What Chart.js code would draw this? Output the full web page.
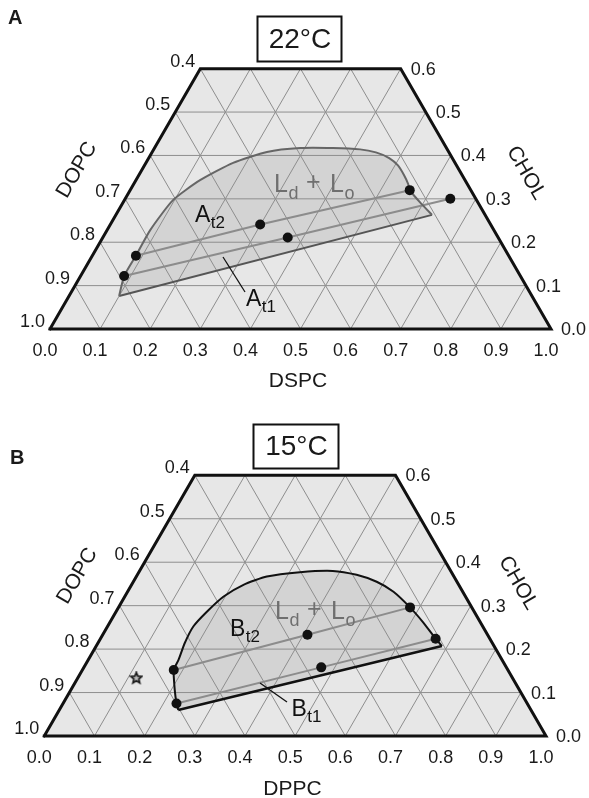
<!DOCTYPE html>
<html><head><meta charset="utf-8">
<script src="https://cdn.jsdelivr.net/npm/chart.js@4/dist/chart.umd.min.js"></script>
<style>
html,body{margin:0;padding:0;background:#fff;}
#wrap{position:relative;width:589px;height:798px;}
canvas{position:absolute;left:0;}
</style></head><body>
<div id="wrap">
<canvas id="cA" width="589" height="400" style="top:0px"></canvas>
<canvas id="cB" width="589" height="398" style="top:400px"></canvas>
</div>
<script>
// ===================== DATA =====================
// grid steps (mole fraction)
const gridSteps = [0.1, 0.2, 0.3, 0.4, 0.5, 0.6, 0.7, 0.8, 0.9];
const cholMax = 0.6;
// bottom axis (saturated PC) ticks
const bottomTickValues = [0.0, 0.1, 0.2, 0.3, 0.4, 0.5, 0.6, 0.7, 0.8, 0.9, 1.0];
const bottomTickLabels = ['0.0', '0.1', '0.2', '0.3', '0.4', '0.5', '0.6', '0.7', '0.8', '0.9', '1.0'];
// left axis (DOPC) ticks, placed at CHOL level where DOPC = label on the left edge
const leftTickChol = [0.6, 0.5, 0.4, 0.3, 0.2, 0.1, 0.0];
const leftTickLabels = ['0.4', '0.5', '0.6', '0.7', '0.8', '0.9', '1.0'];
// right axis (CHOL) ticks
const rightTickChol = [0.0, 0.1, 0.2, 0.3, 0.4, 0.5, 0.6];
const rightTickLabels = ['0.0', '0.1', '0.2', '0.3', '0.4', '0.5', '0.6'];

// ---- Panel A: DSPC / DOPC / CHOL at 22 °C (values: DSPC fraction, CHOL fraction) ----
const boundaryA_dspc = [0.100, 0.087, 0.087, 0.086, 0.097, 0.128, 0.174, 0.229, 0.291, 0.356, 0.412, 0.447, 0.480, 0.506, 0.529, 0.548, 0.558, 0.595, 0.631];
const boundaryA_chol = [0.076, 0.122, 0.169, 0.228, 0.297, 0.343, 0.383, 0.408, 0.417, 0.417, 0.414, 0.407, 0.394, 0.377, 0.355, 0.334, 0.320, 0.290, 0.263];
const tieA2_dspc = [0.087, 0.299, 0.558];
const tieA2_chol = [0.169, 0.241, 0.320];
const tieA1_dspc = [0.087, 0.369, 0.649];
const tieA1_chol = [0.122, 0.211, 0.300];

// ---- Panel B: DPPC / DOPC / CHOL at 15 °C ----
const boundaryB_dppc = [0.237, 0.226, 0.207, 0.182, 0.180, 0.173, 0.171, 0.181, 0.197, 0.223, 0.260, 0.321, 0.385, 0.437, 0.485, 0.530, 0.581, 0.625, 0.668, 0.689];
const boundaryB_chol = [0.060, 0.075, 0.106, 0.152, 0.175, 0.214, 0.252, 0.286, 0.321, 0.348, 0.367, 0.377, 0.380, 0.371, 0.355, 0.332, 0.296, 0.261, 0.224, 0.207];
const tieB2_dppc = [0.182, 0.408, 0.581];
const tieB2_chol = [0.152, 0.233, 0.296];
const tieB1_dppc = [0.226, 0.473, 0.668];
const tieB1_chol = [0.075, 0.158, 0.224];
const starB_dppc = [0.117];
const starB_chol = [0.133];

// ===================== HELPERS =====================
const S3 = Math.sqrt(3) / 2;
function tern(sat, chol) { return { x: sat + chol / 2, y: chol * S3 }; }
function pts(sats, chols) { return sats.map((s, i) => tern(s, chols[i])); }
const FONT = '"Liberation Sans", Arial, Helvetica, sans-serif';

function starCanvas() {
  const c = document.createElement('canvas');
  c.width = 14; c.height = 14;
  const g = c.getContext('2d');
  g.beginPath();
  for (let i = 0; i < 10; i++) {
    const r = i % 2 === 0 ? 5.8 : 2.6;
    const a = -Math.PI / 2 + i * Math.PI / 5;
    const x = 7 + r * Math.cos(a), y = 7 + r * Math.sin(a);
    if (i === 0) g.moveTo(x, y); else g.lineTo(x, y);
  }
  g.closePath();
  g.fillStyle = '#bdbdbd';
  g.fill();
  g.lineWidth = 1.7;
  g.strokeStyle = '#1a1a1a';
  g.stroke();
  return c;
}

function lineDS(data, color, width, order, extra) {
  return Object.assign({
    data: data, showLine: true, fill: false, borderColor: color, borderWidth: width,
    pointRadius: 0, pointHoverRadius: 0, order: order, tension: 0, clip: false
  }, extra || {});
}

function buildPanel(cfg) {
  const ds = [];
  // background trapezoid
  const trap = [tern(0, 0), tern(1, 0), tern(1 - cholMax, cholMax), tern(0, cholMax), tern(0, 0)];
  ds.push(lineDS(trap, 'rgba(0,0,0,0)', 0, 100, { fill: 'shape', backgroundColor: '#e7e7e7' }));
  // two-phase region fill
  const poly = pts(cfg.bSat, cfg.bChol);
  ds.push(lineDS(poly.concat([poly[0]]), 'rgba(0,0,0,0)', 0, 95, { fill: 'shape', backgroundColor: '#d3d3d3' }));
  // grid
  const gc = '#8e8e8e';
  gridSteps.forEach(k => {
    if (k < cholMax - 1e-9) ds.push(lineDS([tern(0, k), tern(1 - k, k)], gc, 1, 90));
    // constant saturated-PC line
    const top1 = Math.min(cholMax, 1 - k);
    ds.push(lineDS([tern(k, 0), tern(k, top1)], gc, 1, 90));
    // constant DOPC line (DOPC = k)
    const top2 = Math.min(cholMax, 1 - k);
    ds.push(lineDS([tern(1 - k, 0), tern(1 - k - top2, top2)], gc, 1, 90));
  });
  // tie lines
  ds.push(lineDS(pts(cfg.t2Sat, cfg.t2Chol), '#8c8c8c', 2, 40));
  ds.push(lineDS(pts(cfg.t1Sat, cfg.t1Chol), '#8c8c8c', 2, 40));
  // boundary curve (smooth) and lower straight edge
  ds.push(lineDS(poly, cfg.edgeColor, cfg.edgeWidth, 30, { tension: 0.2 }));
  ds.push(lineDS([poly[poly.length - 1], poly[0]], cfg.lowColor, cfg.lowWidth, 30));
  // outline of trapezoid
  ds.push(lineDS(trap, '#111111', 3, 10, { borderJoinStyle: 'miter', borderCapStyle: 'square' }));
  // tie-line end points
  const dots = pts(cfg.t2Sat, cfg.t2Chol).concat(pts(cfg.t1Sat, cfg.t1Chol));
  ds.push({ data: dots, showLine: false, pointRadius: 5, pointBackgroundColor: '#111', pointBorderWidth: 0, pointHoverRadius: 5, order: 5, clip: false });
  if (cfg.star) {
    ds.push({ data: pts(cfg.star[0], cfg.star[1]), showLine: false, pointStyle: starCanvas(), pointRadius: 7, order: 5, clip: false });
  }
  return ds;
}

function sub(ctx, main, s, x, base, size, subSize, drop, color) {
  ctx.fillStyle = color;
  ctx.textAlign = 'left';
  ctx.textBaseline = 'alphabetic';
  ctx.font = size + 'px ' + FONT;
  ctx.fillText(main, x, base);
  const w = ctx.measureText(main).width;
  ctx.font = subSize + 'px ' + FONT;
  ctx.fillText(s, x + w + 0.5, base + drop);
  return x + w + 0.5 + ctx.measureText(s).width;
}

function textPlugin(cfg) {
  return {
    id: 'ternText' + cfg.letter,
    afterDraw(chart) {
      const ctx = chart.ctx, xs = chart.scales.x, ys = chart.scales.y;
      const P = (s, c) => { const t = tern(s, c); return [xs.getPixelForValue(t.x), ys.getPixelForValue(t.y)]; };
      ctx.save();
      ctx.fillStyle = '#1a1a1a';
      ctx.font = '18px ' + FONT;
      // bottom ticks
      ctx.textAlign = 'center'; ctx.textBaseline = 'middle';
      bottomTickValues.forEach((v, i) => { const p = P(v, 0); ctx.fillText(bottomTickLabels[i], p[0] - 5, p[1] + 22); });
      // left ticks (DOPC)
      ctx.textAlign = 'right';
      leftTickChol.forEach((c, i) => { const p = P(0, c); ctx.fillText(leftTickLabels[i], p[0] - 5, p[1] - 7); });
      // right ticks (CHOL)
      ctx.textAlign = 'left';
      rightTickChol.forEach((c, i) => { const p = P(1 - c, c); ctx.fillText(rightTickLabels[i], p[0] + 10, p[1] + 1); });
      // axis titles
      ctx.font = '21px ' + FONT;
      ctx.textAlign = 'center';
      ctx.fillText(cfg.satName, cfg.satTitle[0], cfg.satTitle[1]);
      ctx.save(); ctx.translate(cfg.dopcTitle[0], cfg.dopcTitle[1]); ctx.rotate(-Math.PI / 3); ctx.fillText('DOPC', 0, 0); ctx.restore();
      ctx.save(); ctx.translate(cfg.cholTitle[0], cfg.cholTitle[1]); ctx.rotate(Math.PI / 3); ctx.fillText('CHOL', 0, 0); ctx.restore();
      // panel letter
      ctx.font = 'bold 20px ' + FONT;
      ctx.textAlign = 'left';
      ctx.fillText(cfg.letter, cfg.letterPos[0], cfg.letterPos[1]);
      // temperature box
      const b = cfg.box;
      ctx.lineWidth = 2; ctx.strokeStyle = '#111';
      ctx.strokeRect(b[0], b[1], b[2] - b[0], b[3] - b[1]);
      ctx.font = '28px ' + FONT;
      ctx.textAlign = 'center';
      ctx.fillText(cfg.temp, (b[0] + b[2]) / 2 + 0.5, (b[1] + b[3]) / 2 + 1);
      // Ld + Lo
      const g = '#6f6f6f';
      const lx = cfg.ld[0], lb = cfg.ld[1];
      sub(ctx, 'L', 'd', lx, lb, 25, 18, 7, g);
      ctx.font = '25px ' + FONT; ctx.textAlign = 'left';
      ctx.fillText('+', lx + 32, lb - 2);
      sub(ctx, 'L', 'o', lx + 56, lb, 25, 18, 7, g);
      // region labels
      sub(ctx, cfg.letter, 't2', cfg.t2Lab[0], cfg.t2Lab[1], 23, 17, 6, '#111');
      sub(ctx, cfg.letter, 't1', cfg.t1Lab[0], cfg.t1Lab[1], 23, 17, 6, '#111');
      // leader line
      ctx.beginPath(); ctx.moveTo(cfg.leader[0], cfg.leader[1]); ctx.lineTo(cfg.leader[2], cfg.leader[3]);
      ctx.lineWidth = 1.3; ctx.strokeStyle = '#111'; ctx.stroke();
      ctx.restore();
    }
  };
}

function makeChart(id, cfg) {
  const W = 589, H = cfg.height;
  const x0 = cfg.ox, yb = cfg.base, u = cfg.unit;
  new Chart(document.getElementById(id), {
    type: 'scatter',
    data: { datasets: buildPanel(cfg) },
    options: {
      responsive: false, animation: false, events: [],
      layout: { padding: 0, autoPadding: false },
      plugins: { legend: { display: false }, tooltip: { enabled: false } },
      scales: {
        x: { type: 'linear', display: false, min: -x0 / u, max: (W - x0) / u },
        y: { type: 'linear', display: false, min: -(H - yb) / u, max: yb / u }
      }
    },
    plugins: [textPlugin(cfg)]
  });
}

makeChart('cA', {
  height: 400, ox: 50, base: 329, unit: 501,
  bSat: boundaryA_dspc, bChol: boundaryA_chol,
  t2Sat: tieA2_dspc, t2Chol: tieA2_chol, t1Sat: tieA1_dspc, t1Chol: tieA1_chol,
  edgeColor: '#666666', edgeWidth: 2, lowColor: '#555555', lowWidth: 2,
  letter: 'A', letterPos: [8, 18], temp: '22°C', box: [257.5, 16.5, 341.5, 61.5],
  satName: 'DSPC', satTitle: [298, 381], dopcTitle: [77, 170], cholTitle: [526, 173],
  ld: [274, 192], t2Lab: [195, 222], t1Lab: [246, 306], leader: [223, 257, 245, 292]
});
makeChart('cB', {
  height: 398, ox: 44.3, base: 336, unit: 501.7,
  bSat: boundaryB_dppc, bChol: boundaryB_chol,
  t2Sat: tieB2_dppc, t2Chol: tieB2_chol, t1Sat: tieB1_dppc, t1Chol: tieB1_chol,
  star: [starB_dppc, starB_chol],
  edgeColor: '#111111', edgeWidth: 2, lowColor: '#111111', lowWidth: 2.5,
  letter: 'B', letterPos: [10, 58], temp: '15°C', box: [253.5, 24.5, 338.5, 68.5],
  satName: 'DPPC', satTitle: [292.5, 389], dopcTitle: [77.5, 176], cholTitle: [518, 183],
  ld: [275, 218.5], t2Lab: [230, 236], t1Lab: [291.5, 316], leader: [260, 283, 287, 302]
});
</script>
</body></html>
